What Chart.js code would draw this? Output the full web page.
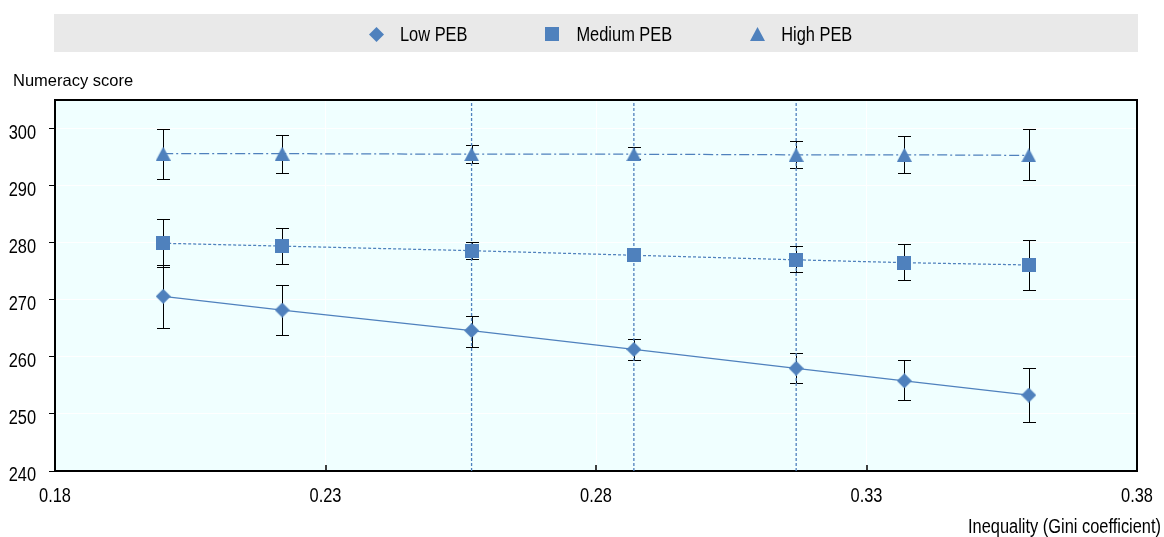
<!DOCTYPE html>
<html>
<head>
<meta charset="utf-8">
<title>Numeracy score by inequality</title>
<script src="https://cdn.jsdelivr.net/npm/chart.js@4/dist/chart.umd.min.js"></script>
<style>
  html, body { margin: 0; padding: 0; background: #fff; }
  canvas { display: block; }
</style>
</head>
<body>
<canvas id="giniChart" width="1164" height="537"></canvas>
<script>
// Gini coefficient of each country group (x positions)
const giniValues = [0.200, 0.222, 0.257, 0.287, 0.317, 0.337, 0.360];
const xTicks = [0.18, 0.23, 0.28, 0.33, 0.38];
const yTicks = [240, 250, 260, 270, 280, 290, 300];

// Predicted numeracy score by parents' educational background (PEB)
const lowPEB = [270.6, 268.2, 264.6, 261.3, 258.0, 255.8, 253.3];
const lowPEBLower = [265.0, 263.9, 261.8, 259.4, 255.4, 252.4, 248.6];
const lowPEBUpper = [276.1, 272.6, 267.1, 263.2, 260.6, 259.4, 258.1];

const mediumPEB = [279.9, 279.4, 278.6, 277.8, 277.0, 276.5, 276.1];
const mediumPEBLower = [275.8, 276.3, 277.2, 276.9, 274.9, 273.4, 271.7];
const mediumPEBUpper = [284.2, 282.6, 280.1, 278.7, 279.4, 279.8, 280.4];

const highPEB = [295.6, 295.6, 295.5, 295.5, 295.4, 295.4, 295.3];
const highPEBLower = [291.1, 292.2, 294.0, 294.6, 293.1, 292.2, 290.9];
const highPEBUpper = [300.0, 298.9, 297.2, 296.7, 297.8, 298.7, 299.9];

// dashed reference lines
const markerLines = [0.257, 0.287, 0.317];

const BLUE = '#4F81BD';
const FONT = "'Liberation Sans', Arial, sans-serif";
const NARROW = 0.82; // the original uses a condensed face

function makeMarker(shape, w, h) {
  const c = document.createElement('canvas');
  c.width = w;
  c.height = h;
  const g = c.getContext('2d');
  g.fillStyle = BLUE;
  g.beginPath();
  if (shape === 'diamond') {
    g.moveTo(w / 2, 0); g.lineTo(w, h / 2); g.lineTo(w / 2, h); g.lineTo(0, h / 2);
  } else if (shape === 'triangle') {
    g.moveTo(w / 2, 0); g.lineTo(w, h); g.lineTo(0, h);
  } else {
    g.rect(0, 0, w, h);
  }
  g.closePath();
  g.fill();
  return c;
}

const diamondImg = makeMarker('diamond', 15, 15);
const squareImg = makeMarker('square', 14, 14);
const triangleImg = makeMarker('triangle', 15, 14);

const toPoints = values => giniValues.map((g, i) => ({ x: g, y: values[i] }));

const seriesDatasets = [
  {
    label: 'Low PEB',
    data: toPoints(lowPEB),
    errLower: lowPEBLower,
    errUpper: lowPEBUpper,
    legendImg: diamondImg,
    pointStyle: diamondImg,
    borderDash: []
  },
  {
    label: 'Medium PEB',
    data: toPoints(mediumPEB),
    errLower: mediumPEBLower,
    errUpper: mediumPEBUpper,
    legendImg: squareImg,
    pointStyle: squareImg,
    borderDash: [3, 2]
  },
  {
    label: 'High PEB',
    data: toPoints(highPEB),
    errLower: highPEBLower,
    errUpper: highPEBUpper,
    legendImg: triangleImg,
    pointStyle: triangleImg,
    borderDash: [10, 3, 2, 3]
  }
].map(ds => Object.assign(ds, {
  showLine: true,
  borderColor: BLUE,
  backgroundColor: BLUE,
  borderWidth: 1.25,
  pointRadius: 7
}));

const lineDatasets = markerLines.map(g => ({
  label: 'ref ' + g,
  data: [{ x: g, y: 240 }, { x: g, y: 305 }],
  showLine: true,
  borderColor: BLUE,
  borderWidth: 1.3,
  borderDash: [3, 2],
  pointRadius: 0
}));

// text squeezed horizontally to look like Arial Narrow
function narrowText(ctx, text, x, y, align) {
  ctx.save();
  ctx.translate(x, y);
  ctx.scale(NARROW, 1);
  ctx.textAlign = align;
  ctx.fillText(text, 0, 0);
  ctx.restore();
}

const plotDecor = {
  id: 'plotDecor',
  beforeDraw(chart) {
    const { ctx, chartArea: a } = chart;
    ctx.save();
    ctx.fillStyle = '#F0FFFF';
    ctx.fillRect(a.left, a.top, a.right - a.left, a.bottom - a.top);
    ctx.fillStyle = '#E9E9E9';
    ctx.fillRect(54, 14, 1084, 38);
    ctx.restore();
  },
  beforeDatasetsDraw(chart) {
    // error bars
    const { ctx, scales: { x, y } } = chart;
    ctx.save();
    ctx.strokeStyle = '#000';
    ctx.lineWidth = 1;
    chart.data.datasets.forEach(ds => {
      if (!ds.errLower) return;
      ds.data.forEach((pt, i) => {
        const px = Math.round(x.getPixelForValue(pt.x)) + 0.5;
        const lo = Math.round(y.getPixelForValue(ds.errLower[i])) + 0.5;
        const hi = Math.round(y.getPixelForValue(ds.errUpper[i])) + 0.5;
        ctx.beginPath();
        ctx.moveTo(px, lo); ctx.lineTo(px, hi);
        ctx.moveTo(px - 6.5, lo); ctx.lineTo(px + 6.5, lo);
        ctx.moveTo(px - 6.5, hi); ctx.lineTo(px + 6.5, hi);
        ctx.stroke();
      });
    });
    ctx.restore();
  },
  afterDraw(chart) {
    const { ctx, chartArea: a, scales: { x, y } } = chart;
    ctx.save();
    // top and right frame
    ctx.strokeStyle = '#000';
    ctx.lineWidth = 2;
    ctx.beginPath();
    ctx.moveTo(a.left, a.top);
    ctx.lineTo(a.right, a.top);
    ctx.lineTo(a.right, a.bottom);
    ctx.stroke();

    // inward ticks on x axis
    ctx.lineWidth = 1.5;
    xTicks.slice(1, -1).forEach(v => {
      const px = Math.round(x.getPixelForValue(v));
      ctx.beginPath();
      ctx.moveTo(px, a.bottom);
      ctx.lineTo(px, a.bottom - 6);
      ctx.stroke();
    });

    // tick labels
    ctx.fillStyle = '#000';
    ctx.font = '20px ' + FONT;
    ctx.textBaseline = 'alphabetic';
    yTicks.forEach(v => {
      narrowText(ctx, String(v), 36, y.getPixelForValue(v) + 10, 'right');
    });
    xTicks.forEach(v => {
      narrowText(ctx, v.toFixed(2), x.getPixelForValue(v), 502, 'center');
    });

    // legend
    let cx = 376;
    seriesDatasets.forEach(ds => {
      const img = ds.legendImg;
      ctx.drawImage(img, Math.round(cx - img.width / 2), Math.round(34 - img.height / 2));
      const tx = cx + 24;
      narrowText(ctx, ds.label, tx, 41, 'left');
      cx = tx + ctx.measureText(ds.label).width * NARROW + 85;
    });

    // axis titles
    narrowText(ctx, 'Inequality (Gini coefficient)', 1161, 533, 'right');
    ctx.font = '16.5px ' + FONT;
    ctx.textAlign = 'left';
    ctx.fillText('Numeracy score', 13, 86);
    ctx.restore();
  }
};

new Chart(document.getElementById('giniChart'), {
  type: 'scatter',
  data: { datasets: seriesDatasets.concat(lineDatasets) },
  plugins: [plotDecor],
  options: {
    responsive: false,
    animation: false,
    layout: { padding: { top: 100, right: 27, left: 0, bottom: 0 } },
    plugins: {
      legend: { display: false },
      tooltip: { enabled: false }
    },
    scales: {
      x: {
        type: 'linear',
        bounds: 'data',
        min: xTicks[0],
        max: xTicks[xTicks.length - 1],
        afterFit(scale) { scale.height = 66; },
        afterBuildTicks(scale) { scale.ticks = xTicks.map(v => ({ value: v })); },
        ticks: { display: false },
        grid: { color: '#fff', lineWidth: 1, drawTicks: false },
        border: { color: '#000', width: 2 }
      },
      y: {
        type: 'linear',
        bounds: 'data',
        min: 240,
        max: 305,
        afterFit(scale) { scale.width = 55; },
        afterBuildTicks(scale) { scale.ticks = yTicks.map(v => ({ value: v })); },
        ticks: { display: false },
        grid: { color: '#fff', tickColor: '#000', tickLength: 6, lineWidth: 1 },
        border: { color: '#000', width: 2 }
      }
    }
  }
});
</script>
</body>
</html>
